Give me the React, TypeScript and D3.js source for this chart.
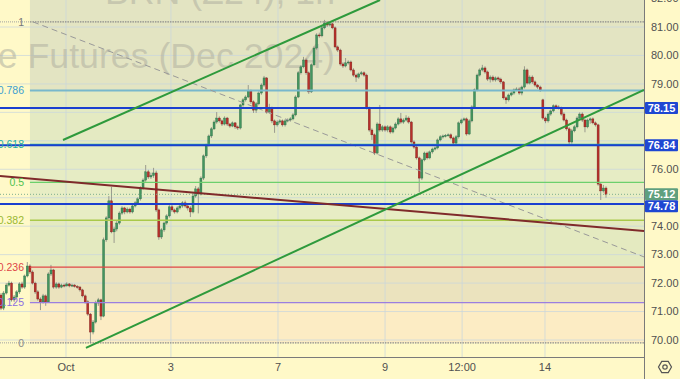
import React from 'react';
import * as d3 from 'd3';

const W = 680;
const H = 379;
const PLOT_R = 644;
const PLOT_B = 357;

// OHLC candles: [open, high, low, close]
const candles: [number, number, number, number][] = [
  [71.58, 71.65, 71.05, 71.12], [71.12, 71.72, 71.05, 71.65], [71.65, 72.0, 71.6, 71.93], [71.93, 72.08, 71.88, 72.0],
  [72.0, 72.05, 71.35, 71.41], [71.41, 71.58, 71.34, 71.51], [71.51, 71.75, 71.45, 71.69], [71.69, 72.03, 71.62, 71.97],
  [71.97, 72.05, 71.8, 71.86], [71.86, 72.3, 71.8, 72.25], [72.25, 72.74, 72.2, 72.6], [72.6, 72.66, 72.32, 72.39],
  [72.39, 72.45, 71.95, 72.0], [72.0, 72.05, 71.62, 71.69], [71.69, 71.75, 71.38, 71.44], [71.44, 71.5, 71.05, 71.34],
  [71.34, 71.62, 71.28, 71.55], [71.55, 71.6, 71.2, 71.34], [71.34, 72.38, 71.3, 72.32], [72.32, 72.64, 72.25, 72.46],
  [72.46, 72.5, 71.8, 71.86], [71.86, 72.03, 71.8, 71.97], [71.97, 72.02, 71.8, 71.86], [71.86, 71.98, 71.82, 71.93],
  [71.93, 71.98, 71.85, 71.9], [71.9, 72.03, 71.88, 71.97], [71.97, 72.0, 71.85, 71.9], [71.9, 71.98, 71.86, 71.93],
  [71.93, 71.97, 71.84, 71.88], [71.88, 71.93, 71.8, 71.86], [71.86, 71.9, 71.7, 71.76], [71.76, 71.8, 71.5, 71.55],
  [71.55, 71.6, 71.28, 71.34], [71.34, 71.4, 70.85, 70.91], [70.91, 70.95, 69.89, 70.28], [70.28, 70.7, 70.2, 70.63],
  [70.63, 71.38, 70.58, 71.3], [71.3, 71.48, 71.2, 71.41], [71.41, 71.45, 70.7, 70.84], [70.84, 73.6, 70.8, 73.52],
  [73.52, 74.35, 73.45, 74.29], [74.29, 75.06, 74.2, 74.89], [74.89, 75.38, 73.75, 73.8], [73.8, 73.98, 73.41, 73.9],
  [73.9, 74.18, 73.82, 74.11], [74.11, 74.52, 74.05, 74.46], [74.46, 74.7, 74.4, 74.64], [74.64, 74.68, 74.42, 74.5],
  [74.5, 74.66, 74.45, 74.6], [74.6, 74.65, 74.44, 74.5], [74.5, 74.76, 74.45, 74.71], [74.71, 74.88, 74.66, 74.82],
  [74.82, 75.02, 74.78, 74.96], [74.96, 75.4, 74.9, 75.34], [75.34, 75.68, 75.28, 75.62], [75.62, 76.15, 75.56, 75.91],
  [75.91, 75.98, 75.66, 75.73], [75.73, 75.88, 75.66, 75.78], [75.78, 76.05, 75.7, 75.87], [75.87, 75.95, 74.5, 74.57],
  [74.57, 74.62, 73.52, 73.62], [73.62, 73.93, 73.55, 73.87], [73.87, 74.16, 73.8, 74.11], [74.11, 74.42, 74.05, 74.36],
  [74.36, 74.74, 74.3, 74.68], [74.68, 74.75, 74.5, 74.57], [74.57, 74.62, 74.44, 74.5], [74.5, 74.7, 74.45, 74.64],
  [74.64, 74.77, 74.58, 74.71], [74.71, 74.88, 74.65, 74.82], [74.82, 74.9, 74.65, 74.71], [74.71, 74.78, 74.55, 74.64],
  [74.64, 74.7, 74.32, 74.5], [74.5, 75.2, 74.45, 75.06], [75.06, 75.41, 75.0, 75.31], [75.31, 75.38, 74.45, 75.13],
  [75.13, 75.75, 75.08, 75.69], [75.69, 76.52, 75.62, 76.47], [76.47, 76.9, 76.4, 76.85], [76.85, 77.22, 76.8, 77.17],
  [77.17, 77.48, 77.1, 77.42], [77.42, 77.72, 77.38, 77.66], [77.66, 78.01, 77.6, 77.8], [77.8, 77.86, 77.64, 77.7],
  [77.7, 77.75, 77.52, 77.59], [77.59, 77.86, 77.54, 77.8], [77.8, 77.84, 77.52, 77.59], [77.59, 77.63, 77.46, 77.52],
  [77.52, 77.68, 77.48, 77.63], [77.63, 77.66, 77.42, 77.49], [77.49, 77.54, 77.38, 77.45], [77.45, 78.3, 77.4, 78.26],
  [78.26, 78.5, 78.2, 78.44], [78.44, 78.6, 78.38, 78.54], [78.54, 78.96, 78.5, 78.75], [78.75, 78.8, 78.3, 78.37],
  [78.37, 78.42, 77.98, 78.08], [78.08, 78.36, 77.98, 78.3], [78.3, 78.74, 78.25, 78.68], [78.68, 79.02, 78.62, 78.96],
  [78.96, 79.28, 78.9, 79.21], [79.21, 79.24, 77.95, 78.01], [78.01, 78.3, 77.95, 78.15], [78.15, 78.2, 77.62, 77.7],
  [77.7, 77.75, 77.28, 77.56], [77.56, 77.72, 77.5, 77.66], [77.66, 77.76, 77.6, 77.7], [77.7, 77.75, 77.5, 77.56],
  [77.56, 77.76, 77.5, 77.7], [77.7, 77.79, 77.65, 77.73], [77.73, 77.83, 77.68, 77.77], [77.77, 77.97, 77.72, 77.91],
  [77.91, 78.6, 77.86, 78.54], [78.54, 79.45, 78.5, 79.39], [79.39, 79.66, 79.33, 79.6], [79.6, 79.95, 79.55, 79.84],
  [79.84, 79.9, 79.32, 79.39], [79.39, 79.44, 78.65, 78.72], [78.72, 79.72, 78.68, 79.67], [79.67, 80.32, 79.62, 80.26],
  [80.26, 80.78, 80.2, 80.72], [80.72, 80.8, 80.62, 80.69], [80.69, 81.03, 80.64, 80.97], [80.97, 81.25, 80.92, 81.14],
  [81.14, 81.2, 81.0, 81.07], [81.07, 81.17, 81.02, 81.11], [81.11, 81.15, 80.92, 80.97], [80.97, 81.02, 80.25, 80.3],
  [80.3, 80.35, 80.12, 80.19], [80.19, 80.24, 79.64, 79.7], [79.7, 79.76, 79.56, 79.63], [79.63, 79.91, 79.58, 79.74],
  [79.74, 79.83, 79.68, 79.77], [79.77, 79.82, 79.44, 79.49], [79.49, 79.55, 79.25, 79.31], [79.31, 79.36, 79.07, 79.24],
  [79.24, 79.4, 79.18, 79.35], [79.35, 79.45, 79.3, 79.39], [79.39, 79.44, 79.25, 79.31], [79.31, 79.36, 78.1, 78.15],
  [78.15, 78.2, 77.32, 77.38], [77.38, 77.44, 77.03, 77.21], [77.21, 77.26, 76.5, 76.57], [76.57, 77.65, 76.52, 77.59],
  [77.59, 78.26, 77.32, 77.38], [77.38, 77.55, 77.32, 77.49], [77.49, 77.54, 77.32, 77.38], [77.38, 77.55, 77.3, 77.49],
  [77.49, 77.54, 77.25, 77.31], [77.31, 77.5, 77.26, 77.45], [77.45, 77.65, 77.4, 77.59], [77.59, 77.83, 77.54, 77.77],
  [77.77, 77.98, 77.6, 77.66], [77.66, 77.79, 77.6, 77.73], [77.73, 77.9, 77.68, 77.8], [77.8, 77.86, 77.6, 77.66],
  [77.66, 77.7, 76.9, 76.96], [76.96, 77.02, 76.72, 76.78], [76.78, 76.84, 76.34, 76.4], [76.4, 76.45, 75.2, 75.69],
  [75.69, 76.38, 75.62, 76.33], [76.33, 76.62, 76.28, 76.57], [76.57, 76.62, 76.34, 76.4], [76.4, 76.66, 76.35, 76.61],
  [76.61, 76.76, 76.55, 76.71], [76.71, 76.8, 76.66, 76.75], [76.75, 77.08, 76.7, 77.03], [77.03, 77.2, 76.98, 77.14],
  [77.14, 77.22, 77.08, 77.17], [77.17, 77.24, 77.12, 77.19], [77.19, 77.26, 77.15, 77.21], [77.21, 77.26, 77.05, 77.1],
  [77.1, 77.15, 76.82, 76.92], [76.92, 77.2, 76.88, 77.14], [77.14, 77.68, 77.08, 77.63], [77.63, 77.78, 77.58, 77.73],
  [77.73, 77.82, 77.68, 77.77], [77.77, 77.82, 77.18, 77.24], [77.24, 77.76, 77.2, 77.7], [77.7, 78.25, 77.65, 78.19],
  [78.19, 78.84, 78.14, 78.79], [78.79, 79.36, 78.74, 79.31], [79.31, 79.55, 79.26, 79.49], [79.49, 79.67, 79.44, 79.56],
  [79.56, 79.62, 79.36, 79.42], [79.42, 79.47, 79.1, 79.17], [79.17, 79.3, 79.05, 79.24], [79.24, 79.3, 79.08, 79.14],
  [79.14, 79.26, 79.08, 79.21], [79.21, 79.26, 79.1, 79.17], [79.17, 79.22, 79.0, 79.07], [79.07, 79.1, 78.45, 78.51],
  [78.51, 78.56, 78.3, 78.44], [78.44, 78.66, 78.38, 78.61], [78.61, 78.74, 78.56, 78.68], [78.68, 78.84, 78.62, 78.79],
  [78.79, 78.88, 78.74, 78.82], [78.82, 78.88, 78.62, 78.68], [78.68, 78.94, 78.6, 78.89], [78.89, 79.62, 78.84, 79.49],
  [79.49, 79.54, 78.98, 79.03], [79.03, 79.3, 78.98, 79.24], [79.24, 79.3, 79.0, 79.07], [79.07, 79.12, 78.9, 78.96],
  [78.96, 79.0, 78.82, 78.89], [78.89, 78.94, 78.72, 78.79], [78.44, 78.48, 77.74, 77.8], [77.8, 77.85, 77.62, 77.7],
  [77.7, 78.0, 77.64, 77.94], [77.94, 78.1, 77.88, 78.05], [78.05, 78.28, 78.0, 78.23], [78.23, 78.28, 78.12, 78.19],
  [78.19, 78.25, 78.1, 78.15], [78.15, 78.2, 77.88, 77.94], [77.94, 78.0, 77.68, 77.73], [77.73, 77.78, 77.36, 77.42],
  [77.42, 77.48, 76.85, 76.96], [76.96, 77.42, 76.9, 77.35], [77.35, 77.55, 77.3, 77.49], [77.49, 77.86, 77.44, 77.8],
  [77.8, 78.0, 77.75, 77.94], [77.94, 78.0, 77.66, 77.73], [77.73, 77.78, 77.3, 77.49], [77.49, 77.78, 77.44, 77.73],
  [77.73, 77.82, 77.6, 77.77], [77.77, 77.82, 77.58, 77.63], [77.63, 77.68, 77.5, 77.56], [77.56, 77.6, 75.42, 75.48],
  [75.48, 75.54, 74.92, 75.24], [75.24, 75.45, 75.18, 75.34], [75.34, 75.4, 75.0, 75.12],
];

const priceTicks = [70, 71, 72, 73, 74, 75, 76, 77, 78, 79, 80, 81, 82];
const timeTickIndex = [24.7, 64.6, 105.3, 146.0, 175.3, 206.8];
const timeTickLabels = ['Oct', '3', '7', '9', '12:00', '14'];

const fibLow = 69.9;
const fibHigh = 81.18;
const fibLevels = [0, 0.125, 0.236, 0.382, 0.5, 0.618, 0.786, 1];
const fibLabels = ['0', '0.125', '0.236', '0.382', '0.5', '0.618', '0.786', '1'];
const fibStartIndex = 11;

const keyLevels = [78.15, 76.84, 74.78];
const lastPrice = 75.12;

// trend lines: [index0, price0, index1, price1]
const channelUpper = [23.57, 77.03, 144.1, 81.95];
const channelLower = [32.3, 69.72, 244.45, 78.79];
const brownLine = [-0.38, 75.76, 244.45, 73.83];
const fibDiagonal = [12.17, 81.18, 244.45, 72.92];

const watermarkTop = 'BRN (Z24), 1h';
const watermarkBottom = 'Brent Crude Futures (Dec 2024)';

export default function App() {
  const N = candles.length;
  const x = d3.scaleLinear().domain([0, N - 1]).range([1, 606]);
  const y = d3.scaleLinear().domain([70, 81]).range([340, 27]);
  const step = x(1) - x(0);
  const bodyW = Math.max(1.2, step * 0.76);

  const fibPrice = (l: number) => fibLow + l * (fibHigh - fibLow);
  const fibLineColors: Record<string, string> = {
    '0': '#8a8a8a', '0.125': '#9b7ee0', '0.236': '#e04646', '0.382': '#a9c94a',
    '0.5': '#6cd06c', '0.618': '#2fb3a4', '0.786': '#78b8cc', '1': '#8a8a8a',
  };
  const fibTextColors: Record<string, string> = {
    '0': '#8a8a8a', '0.125': '#8d6fe0', '0.236': '#e04646', '0.382': '#9ab832',
    '0.5': '#4fc24f', '0.618': '#22b0a0', '0.786': '#3c9fd0', '1': '#777',
  };
  const bandColors = ['#fcecc4', '#ebe3be', '#e4eac0', '#e7edc4', '#e6ecc4', '#e4eac2', '#e3e4c2'];

  const fx0 = x(fibStartIndex);
  const line = d3.line<[number, number]>().x((d) => x(d[0])).y((d) => y(d[1]));
  const seg = (t: number[]) => line([[t[0], t[1]], [t[2], t[3]]]) || '';

  const font = "'Liberation Sans', Arial, sans-serif";

  const boxH = 12;
  const lastY = y(lastPrice);
  const boxes = [
    { p: 78.15, c: y(78.15), color: '#1f47d2' },
    { p: 76.84, c: y(76.84), color: '#1f47d2' },
    { p: lastPrice, c: lastY, color: '#5e9f7e' },
    { p: 74.78, c: Math.max(y(74.78), lastY + boxH), color: '#1f47d2' },
  ];
  const visibleTicks = priceTicks.filter((p) => !boxes.some((b) => Math.abs(b.c - y(p)) < 5));

  const hex = d3.range(6).map((k) => {
    const a = (Math.PI / 3) * k;
    return [665 + 6.5 * Math.cos(a), 367 + 6.5 * Math.sin(a)];
  });

  return (
    <svg width={W} height={H} style={{ position: 'absolute', left: 0, top: 0 }} fontFamily={font}>
      <defs>
        <clipPath id="plot">
          <rect x={0} y={0} width={PLOT_R} height={PLOT_B} />
        </clipPath>
      </defs>
      <rect x={0} y={0} width={W} height={H} fill="#fff9c8" />
      <g clipPath="url(#plot)">
        {fibLevels.slice(0, -1).map((l, i) => {
          const yTop = i === fibLevels.length - 2 ? 0 : y(fibPrice(fibLevels[i + 1]));
          const yBot = y(fibPrice(l));
          return <rect key={'b' + i} x={fx0} y={yTop} width={PLOT_R - fx0} height={yBot - yTop} fill={bandColors[i]} />;
        })}
        {priceTicks.map((p) => (
          <line key={'gh' + p} x1={0} x2={PLOT_R} y1={y(p)} y2={y(p)} stroke="#c9d6dc" strokeOpacity={0.75} />
        ))}
        {timeTickIndex.map((t, i) => (
          <line key={'gv' + i} x1={x(t)} x2={x(t)} y1={0} y2={PLOT_B} stroke="#c9d6dc" strokeOpacity={0.75} />
        ))}
        <text x={335} y={4} textAnchor="end" fontSize={35.7} fill="#b4b4a2" fillOpacity={0.6}>{watermarkTop}</text>
        <text x={335} y={68} textAnchor="end" fontSize={35.7} fill="#b4b4a2" fillOpacity={0.6}>{watermarkBottom}</text>
        {candles.map((c, i) => {
          const [o, h, l, cl] = c;
          const up = cl >= o;
          const cx = x(i);
          const yt = y(Math.max(o, cl));
          const yb = y(Math.min(o, cl));
          return (
            <g key={'c' + i}>
              <line x1={cx} x2={cx} y1={y(h)} y2={y(l)} stroke="#9a9a8e" strokeWidth={1} />
              <rect x={cx - bodyW / 2} y={yt} width={bodyW} height={Math.max(1, yb - yt)}
                fill={up ? '#43955f' : '#b8302a'} stroke={up ? '#2a6b45' : '#7a1d1a'} strokeWidth={0.4} />
            </g>
          );
        })}
        {fibLevels.map((l, i) => {
          const key = fibLabels[i];
          const yy = y(fibPrice(l));
          const edge = l === 0 || l === 1;
          return (
            <g key={'f' + i}>
              {edge && <line x1={0} x2={fx0} y1={yy} y2={yy} stroke="#a0a0a0" strokeDasharray="1,1" />}
              <line x1={fx0} x2={PLOT_R} y1={yy} y2={yy} stroke={fibLineColors[key]}
                strokeWidth={l === 0.786 ? 2 : edge ? 1.2 : 1.3} strokeDasharray={edge ? '1.5,1' : undefined} />
            </g>
          );
        })}
        <path d={seg(fibDiagonal)} stroke="#999" strokeWidth={1} strokeDasharray="6,4" fill="none" />
        {keyLevels.map((p) => (
          <line key={'k' + p} x1={0} x2={PLOT_R} y1={y(p)} y2={y(p)} stroke="#1a3fd0" strokeWidth={2} />
        ))}
        <line x1={0} x2={PLOT_R} y1={lastY} y2={lastY} stroke="#7fae8f" strokeWidth={1} strokeDasharray="1,2" />
        <path d={seg(brownLine)} stroke="#7f2a2a" strokeWidth={2} fill="none" />
        <path d={seg(channelUpper)} stroke="#2e9a3c" strokeWidth={2} fill="none" />
        <path d={seg(channelLower)} stroke="#2e9a3c" strokeWidth={2} fill="none" />
        {fibLevels.map((l, i) => {
          const key = fibLabels[i];
          return (
            <text key={'fl' + i} x={24} y={y(fibPrice(l))} dy="0.35em" textAnchor="end" fontSize={10.5}
              fill={fibTextColors[key]}>{key}</text>
          );
        })}
      </g>
      <line x1={PLOT_R + 0.5} x2={PLOT_R + 0.5} y1={0} y2={H} stroke="#7a7a7a" />
      <line x1={0} x2={PLOT_R} y1={PLOT_B + 0.5} y2={PLOT_B + 0.5} stroke="#7a7a7a" />
      {visibleTicks.map((p) => (
        <text key={'pt' + p} x={651} y={y(p)} dy="0.35em" fontSize={11} fill="#505050">{p.toFixed(2)}</text>
      ))}
      {timeTickIndex.map((t, i) => (
        <text key={'tt' + i} x={x(t)} y={371} textAnchor="middle" fontSize={11} fill="#505050">{timeTickLabels[i]}</text>
      ))}
      {boxes.map((b) => (
        <g key={'bx' + b.p}>
          <rect x={PLOT_R + 1} y={b.c - boxH / 2} width={33} height={boxH} fill={b.color} rx={1} />
          <text x={PLOT_R + 17.5} y={b.c} dy="0.36em" textAnchor="middle" fontSize={11} fontWeight="bold" fill="#fff">
            {b.p.toFixed(2)}
          </text>
        </g>
      ))}
      <polygon points={hex.map((p) => p.join(',')).join(' ')} fill="none" stroke="#555" strokeWidth={1.2} />
      <circle cx={665} cy={367} r={2.2} fill="none" stroke="#555" strokeWidth={1.2} />
    </svg>
  );
}
